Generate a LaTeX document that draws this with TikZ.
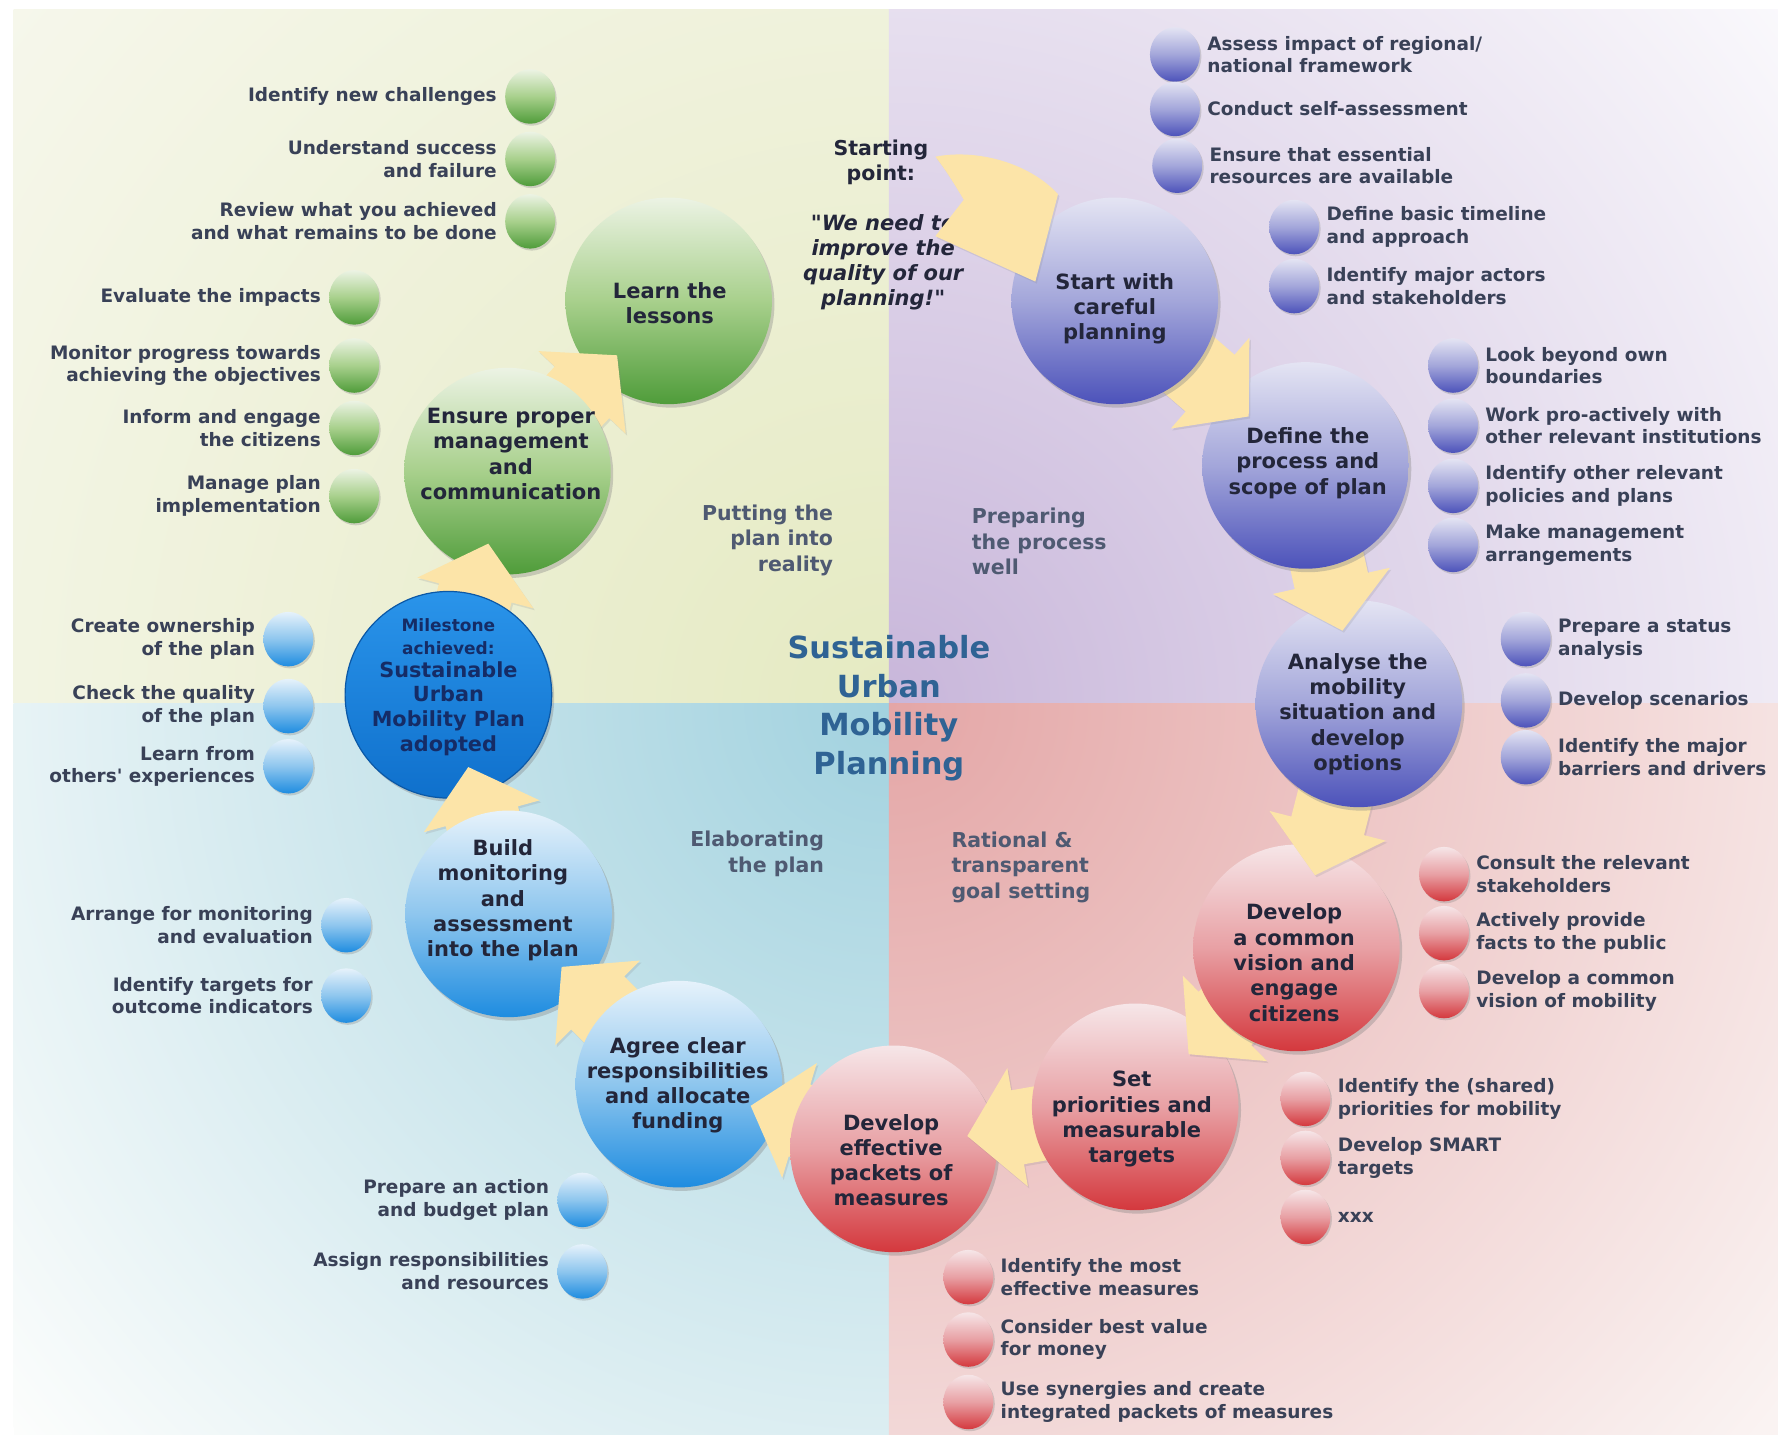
\documentclass[tikz,border=0pt]{standalone}
\usepackage{fontspec}
\setmainfont{DejaVu Sans}
\newfontfamily\plainfam[Ligatures=TeXOff]{DejaVu Sans}
\usetikzlibrary{calc,shapes.geometric,shadows,positioning}

\definecolor{tlIn}{HTML}{E5EAC2}
\definecolor{tlOut}{HTML}{F6F7EC}
\definecolor{trIn}{HTML}{C8B6DA}
\definecolor{trOut}{HTML}{FAF9FC}
\definecolor{blIn}{HTML}{A2D2DF}
\definecolor{blOut}{HTML}{FCFDFC}
\definecolor{brIn}{HTML}{E4A6A6}
\definecolor{brOut}{HTML}{FAF3F2}
\definecolor{gT}{HTML}{ECF3E4}\definecolor{gM}{HTML}{A8D08C}\definecolor{gB}{HTML}{4F9C3A}
\definecolor{pT}{HTML}{E4E4F3}\definecolor{pM}{HTML}{A3A6DA}\definecolor{pB}{HTML}{4C52BA}
\definecolor{bT}{HTML}{E6F2FB}\definecolor{bM}{HTML}{8EC6EE}\definecolor{bB}{HTML}{1E8CE0}
\definecolor{rT}{HTML}{F6E6E8}\definecolor{rM}{HTML}{E8A0A4}\definecolor{rB}{HTML}{D4383D}
\definecolor{mT}{HTML}{2A94EA}\definecolor{mB}{HTML}{0F70CC}\definecolor{mD}{HTML}{0B58A6}
\definecolor{arrowc}{HTML}{FCE4A8}
\definecolor{bulc}{HTML}{394157}
\definecolor{stc}{HTML}{23263A}
\definecolor{phc}{HTML}{4F5A72}
\definecolor{titc}{HTML}{2F6394}
\definecolor{msc}{HTML}{152C66}

\newcommand\bulfont{\fontsize{18.5}{22.7}\selectfont\bfseries}
\newcommand\stfont{\fontsize{21}{25.3}\selectfont\bfseries}
\newcommand\phfont{\fontsize{20.5}{25.5}\selectfont\bfseries}
\newcommand\titfont{\fontsize{30.5}{38.6}\selectfont\bfseries}
\newcommand\qfont{\plainfam\fontsize{21}{25.3}\selectfont\bfseries\itshape}
\newcommand\msfont{\fontsize{17}{22.7}\selectfont\bfseries}
\newcommand\mbfont{\fontsize{20.8}{24.6}\selectfont\bfseries}

\pgfdeclarelayer{L01}\pgfdeclarelayer{L02}\pgfdeclarelayer{L03}\pgfdeclarelayer{L04}
\pgfdeclarelayer{L05}\pgfdeclarelayer{L06}\pgfdeclarelayer{L07}\pgfdeclarelayer{L08}
\pgfdeclarelayer{L09}\pgfdeclarelayer{L10}\pgfdeclarelayer{L11}\pgfdeclarelayer{L12}
\pgfdeclarelayer{L13}\pgfdeclarelayer{L14}\pgfdeclarelayer{L15}\pgfdeclarelayer{L16}
\pgfdeclarelayer{L17}\pgfdeclarelayer{L18}\pgfdeclarelayer{L19}\pgfdeclarelayer{L20}
\pgfdeclarelayer{L21}\pgfdeclarelayer{L22}
\pgfsetlayers{main,L01,L02,L03,L04,L05,L06,L07,L08,L09,L10,L11,L12,L13,L14,L15,L16,L17,L18,L19,L20,L21,L22}

\tikzset{
  stage/.style={circle, minimum size=206.6pt, inner sep=0pt,
    drop shadow={opacity=0.35, shadow xshift=2.5pt, shadow yshift=-3.5pt}},
  gstage/.style={stage, top color=gT, bottom color=gB, middle color=gM},
  pstage/.style={stage, top color=pT, bottom color=pB, middle color=pM},
  bstage/.style={stage, top color=bT, bottom color=bB, middle color=bM},
  rstage/.style={stage, top color=rT, bottom color=rB, middle color=rM},
  mstage/.style={stage, top color=mT, bottom color=mB, draw=mD, line width=1.2pt},
  stxt/.style={font=\stfont, text=stc, align=center, inner sep=0pt},
  bul/.style={ellipse, minimum width=50pt, minimum height=54.5pt, inner sep=0pt,
    drop shadow={opacity=0.3, shadow xshift=1.5pt, shadow yshift=-2pt}},
  gbul/.style={bul, top color=gT, bottom color=gB, middle color=gM},
  pbul/.style={bul, top color=pT, bottom color=pB, middle color=pM},
  bbul/.style={bul, top color=bT, bottom color=bB, middle color=bM},
  rbul/.style={bul, top color=rT, bottom color=rB, middle color=rM},
  ltxt/.style={font=\bulfont, text=bulc, align=right, inner sep=0pt},
  rtxt/.style={font=\bulfont, text=bulc, align=left, inner sep=0pt},
  phase/.style={font=\phfont, text=phc, inner sep=0pt},
  arrowfill/.style={fill=arrowc, drop shadow={opacity=0.18, shadow xshift=1.5pt, shadow yshift=-2pt}},
}

\newcommand\blockarrow[2]{%
  \path ($(#2.center)!75pt!(#1.center)$) coordinate (#1-tip)
        ($(#1-tip)!51pt!(#1.center)$) coordinate (#1-base);
  \fill[arrowfill]
    ($(#1.center)!37.5pt!90:(#2.center)$) --
    ($(#1-base)!37.5pt!90:(#2.center)$) --
    ($(#1-base)!60pt!90:(#2.center)$) --
    (#1-tip) --
    ($(#1-base)!60pt!-90:(#2.center)$) --
    ($(#1-base)!37.5pt!-90:(#2.center)$) --
    ($(#1.center)!37.5pt!-90:(#2.center)$) -- cycle;
}

\begin{document}
\begin{tikzpicture}[x=1.1352pt, y=-1.1352pt]
\path[use as bounding box] (0,0) rectangle (1568,1267);
\fill[white] (0,0) rectangle (1568,1267);
% quadrants
\begin{scope}
  \clip (12,8) rectangle (783,620);
  \fill[tlOut] (12,8) rectangle (783,620);
  \shade[inner color=tlIn, outer color=tlOut] (783,620) circle (1000);
\end{scope}
\begin{scope}
  \clip (783,8) rectangle (1566,620);
  \fill[trOut] (783,8) rectangle (1566,620);
  \shade[inner color=trIn, outer color=trOut] (783,620) circle (1000);
\end{scope}
\begin{scope}
  \clip (12,620) rectangle (783,1264);
  \fill[blOut] (12,620) rectangle (783,1264);
  \shade[inner color=blIn, outer color=blOut] (783,620) circle (1000);
\end{scope}
\begin{scope}
  \clip (783,620) rectangle (1566,1264);
  \fill[brOut] (783,620) rectangle (1566,1264);
  \shade[inner color=brIn, outer color=brOut] (783,620) circle (1000);
\end{scope}

% titles and phase labels
\node[font=\titfont, text=titc, align=center, inner sep=0pt] (title) at (783,624) {Sustainable\\Urban\\Mobility\\Planning};
\node[phase, align=right, anchor=east] (ph1) at (734,476) {Putting the\\plan into\\reality};
\node[phase, align=left, anchor=west] (ph2) at (856,477) {Preparing\\the process\\well};
\node[phase, align=right, anchor=east] (ph3) at (726,752) {Elaborating\\the plan};
\node[phase, align=left, anchor=west] (ph4) at (838,764) {Rational \&\\transparent\\goal setting};
\node[font=\phfont, text=stc, align=center, inner sep=0pt] (startpt) at (776,143) {Starting\\point:};
\node[font=\qfont, text=stc, align=center, inner sep=0pt] (quote) at (778,231) {"We need to\\improve the\\quality of our\\planning!"};

% stage circles
\begin{pgfonlayer}{L21}
  \node[pstage] (start) at (982,265) {};
  \node[stxt] (start-t) at (982,272) {Start with\\careful\\planning};
\end{pgfonlayer}
\begin{pgfonlayer}{L19}
  \node[pstage] (define) at (1150,410) {};
  \node[stxt] (define-t) at (1152,408) {Define the\\process and\\scope of plan};
\end{pgfonlayer}
\begin{pgfonlayer}{L17}
  \node[pstage] (analyse) at (1197,620) {};
  \node[stxt] (analyse-t) at (1196,629) {Analyse the\\mobility\\situation and\\develop\\options};
\end{pgfonlayer}
\begin{pgfonlayer}{L15}
  \node[rstage] (vision) at (1142,835) {};
  \node[stxt] (vision-t) at (1140,848) {Develop\\a common\\vision and\\engage\\citizens};
\end{pgfonlayer}
\begin{pgfonlayer}{L13}
  \node[rstage] (set) at (1000,975) {};
  \node[stxt] (set-t) at (997,986) {Set\\priorities and\\measurable\\targets};
\end{pgfonlayer}
\begin{pgfonlayer}{L11}
  \node[rstage] (packets) at (787,1012) {};
  \node[stxt] (packets-t) at (785,1022) {Develop\\effective\\packets of\\measures};
\end{pgfonlayer}
\begin{pgfonlayer}{L09}
  \node[bstage] (agree) at (598,955) {};
  \node[stxt] (agree-t) at (597,956) {Agree clear\\responsibilities\\and allocate\\funding};
\end{pgfonlayer}
\begin{pgfonlayer}{L07}
  \node[bstage] (build) at (448,805) {};
  \node[stxt] (build-t) at (443,793) {Build\\monitoring\\and\\assessment\\into the plan};
\end{pgfonlayer}
\begin{pgfonlayer}{L05}
  \node[mstage] (milestone) at (395,612) {};
  \node[font=\msfont, text=msc, align=center, inner sep=0pt] (milestone-t1) at (395,561) {Milestone\\achieved:};
  \node[font=\mbfont, text=msc, align=center, inner sep=0pt] (milestone-t2) at (395,624) {Sustainable\\Urban\\Mobility Plan\\adopted};
\end{pgfonlayer}
\begin{pgfonlayer}{L03}
  \node[gstage] (ensure) at (447,415) {};
  \node[stxt] (ensure-t) at (450,400) {Ensure proper\\management\\and\\communication};
\end{pgfonlayer}
\begin{pgfonlayer}{L01}
  \node[gstage] (learn) at (589,265) {};
  \node[stxt] (learn-t) at (590,267) {Learn the\\lessons};
\end{pgfonlayer}

% block arrows between stages
\begin{pgfonlayer}{L20}\blockarrow{start}{define}\end{pgfonlayer}
\begin{pgfonlayer}{L18}\blockarrow{define}{analyse}\end{pgfonlayer}
\begin{pgfonlayer}{L16}\blockarrow{analyse}{vision}\end{pgfonlayer}
\begin{pgfonlayer}{L14}\blockarrow{vision}{set}\end{pgfonlayer}
\begin{pgfonlayer}{L12}\blockarrow{set}{packets}\end{pgfonlayer}
\begin{pgfonlayer}{L10}\blockarrow{packets}{agree}\end{pgfonlayer}
\begin{pgfonlayer}{L08}\blockarrow{agree}{build}\end{pgfonlayer}
\begin{pgfonlayer}{L06}\blockarrow{build}{milestone}\end{pgfonlayer}
\begin{pgfonlayer}{L04}\blockarrow{milestone}{ensure}\end{pgfonlayer}
\begin{pgfonlayer}{L02}\blockarrow{ensure}{learn}\end{pgfonlayer}

% starting arrow: curved, tapered tail, head into the first stage
\begin{pgfonlayer}{L22}
  \coordinate (sp) at (824,138);
  \fill[arrowfill] (sp)
     .. controls ($(start.center)+(-122,-134)$) and ($(start.center)+(-76,-122)$) .. ($(start.center)+(-50,-94)$)
     -- ($(start.center)+(-70,-17)$)
     -- ($(start.center)+(-158,-57)$)
     -- ($(start.center)+(-133,-89)$)
     .. controls ($(start.center)+(-143,-106)$) and ($(start.center)+(-151,-118)$) .. (sp) -- cycle;
\end{pgfonlayer}

% green bullets
\node[gbul] (g1) at (467,85) {};  \node[ltxt, left=8pt of g1] (g1-t) {Identify new challenges};
\node[gbul] (g2) at (467,140) {}; \node[ltxt, left=8pt of g2] (g2-t) {Understand success\\and failure};
\node[gbul] (g3) at (467,195) {}; \node[ltxt, left=8pt of g3] (g3-t) {Review what you achieved\\and what remains to be done};
\node[gbul] (g4) at (312,262) {}; \node[ltxt, left=8pt of g4] (g4-t) {Evaluate the impacts};
\node[gbul] (g5) at (312,322) {}; \node[ltxt, left=8pt of g5] (g5-t) {Monitor progress towards\\achieving the objectives};
\node[gbul] (g6) at (312,377) {}; \node[ltxt, left=8pt of g6] (g6-t) {Inform and engage\\the citizens};
\node[gbul] (g7) at (312,437) {}; \node[ltxt, left=8pt of g7] (g7-t) {Manage plan\\implementation};

% blue bullets
\node[bbul] (b1) at (254,563) {};  \node[ltxt, left=8pt of b1] (b1-t) {Create ownership\\of the plan};
\node[bbul] (b2) at (254,622) {};  \node[ltxt, left=8pt of b2] (b2-t) {Check the quality\\of the plan};
\node[bbul] (b3) at (254,675) {};  \node[ltxt, left=8pt of b3] (b3-t) {Learn from\\{\plainfam others' experiences}};
\node[bbul] (b4) at (305,815) {};  \node[ltxt, left=8pt of b4] (b4-t) {Arrange for monitoring\\and evaluation};
\node[bbul] (b5) at (305,877) {};  \node[ltxt, left=8pt of b5] (b5-t) {Identify targets for\\outcome indicators};
\node[bbul] (b6) at (513,1057) {}; \node[ltxt, left=8pt of b6] (b6-t) {Prepare an action\\and budget plan};
\node[bbul] (b7) at (513,1120) {}; \node[ltxt, left=8pt of b7] (b7-t) {Assign responsibilities\\and resources};

% purple bullets
\node[pbul] (p1) at (1035,48) {};   \node[rtxt, right=7pt of p1] (p1-t) {Assess impact of regional/\\national framework};
\node[pbul] (p2) at (1035,96) {};   \node[rtxt, right=7pt of p2] (p2-t) {Conduct self-assessment};
\node[pbul] (p3) at (1037,146) {};  \node[rtxt, right=7pt of p3] (p3-t) {Ensure that essential\\resources are available};
\node[pbul] (p4) at (1140,200) {};  \node[rtxt, right=7pt of p4] (p4-t) {Define basic timeline\\and approach};
\node[pbul] (p5) at (1140,252) {};  \node[rtxt, right=7pt of p5] (p5-t) {Identify major actors\\and stakeholders};
\node[pbul] (p6) at (1280,322) {};  \node[rtxt, right=7pt of p6] (p6-t) {Look beyond own\\boundaries};
\node[pbul] (p7) at (1280,375) {};  \node[rtxt, right=7pt of p7] (p7-t) {Work pro-actively with\\other relevant institutions};
\node[pbul] (p8) at (1280,428) {};  \node[rtxt, right=7pt of p8] (p8-t) {Identify other relevant\\policies and plans};
\node[pbul] (p9) at (1280,480) {};  \node[rtxt, right=7pt of p9] (p9-t) {Make management\\arrangements};
\node[pbul] (p10) at (1344,563) {}; \node[rtxt, right=7pt of p10] (p10-t) {Prepare a status\\analysis};
\node[pbul] (p11) at (1344,617) {}; \node[rtxt, right=7pt of p11] (p11-t) {Develop scenarios};
\node[pbul] (p12) at (1344,667) {}; \node[rtxt, right=7pt of p12] (p12-t) {Identify the major\\barriers and drivers};

% red bullets
\node[rbul] (r1) at (1272,770) {};  \node[rtxt, right=7pt of r1] (r1-t) {Consult the relevant\\stakeholders};
\node[rbul] (r2) at (1272,822) {};  \node[rtxt, right=7pt of r2] (r2-t) {Actively provide\\facts to the public};
\node[rbul] (r3) at (1272,873) {};  \node[rtxt, right=7pt of r3] (r3-t) {Develop a common\\vision of mobility};
\node[rbul] (r4) at (1150,968) {};  \node[rtxt, right=7pt of r4] (r4-t) {Identify the (shared)\\priorities for mobility};
\node[rbul] (r5) at (1150,1020) {}; \node[rtxt, right=7pt of r5] (r5-t) {Develop SMART\\targets};
\node[rbul] (r6) at (1150,1072) {}; \node[rtxt, right=7pt of r6] (r6-t) {xxx};
\node[rbul] (r7) at (853,1125) {};  \node[rtxt, right=7pt of r7] (r7-t) {Identify the most\\effective measures};
\node[rbul] (r8) at (853,1180) {};  \node[rtxt, right=7pt of r8] (r8-t) {Consider best value\\for money};
\node[rbul] (r9) at (853,1235) {};  \node[rtxt, right=7pt of r9] (r9-t) {Use synergies and create\\integrated packets of measures};
\end{tikzpicture}
\end{document}
